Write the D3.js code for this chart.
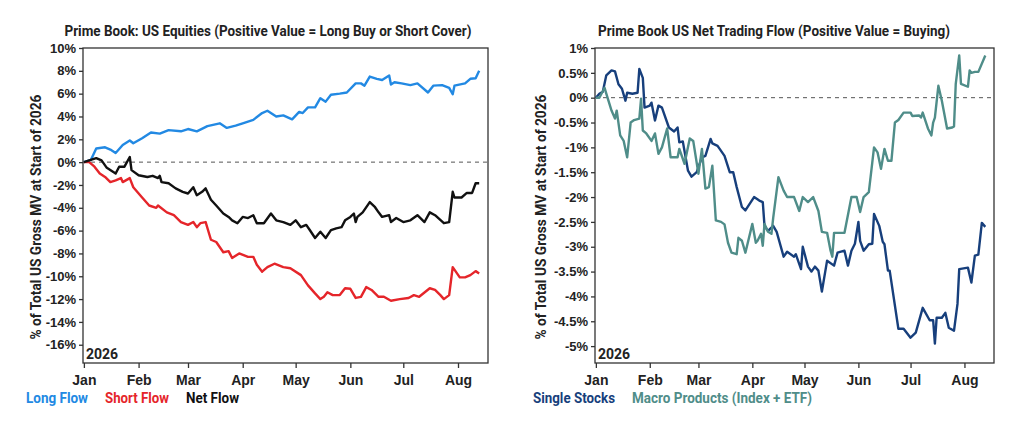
<!DOCTYPE html>
<html lang="en">
<head>
<meta charset="UTF-8">
<title>Prime Book Flows</title>
<script src="https://cdn.jsdelivr.net/npm/d3@7"></script>
<style>
body { margin: 0; background: #fff; }
svg { display: block; font-family: Roboto, "Liberation Sans", sans-serif; }
.axis text { font-size: 13px; font-weight: 700; fill: #222; }
.axis path, .axis line { stroke: #333; stroke-width: 1.3; }
.frame { fill: none; stroke: #333; stroke-width: 1.3; }
.zero { stroke: #555; stroke-width: 1; stroke-dasharray: 4,4; }
.title { font-size: 14px; font-weight: 700; fill: #222; }
.ylab { font-size: 14px; font-weight: 700; fill: #222; }
.legend { font-size: 14px; font-weight: 700; }
</style>
</head>
<body>
<div id="chart"></div>
<script>
// values, % of total US gross MV at start of 2026
const longFlow = [
  ["2026-01-01",0],["2026-01-05",0.2],["2026-01-08",1.2],["2026-01-13",1.3],["2026-01-16",1.1],
  ["2026-01-19",0.8],["2026-01-23",1.5],["2026-01-27",1.9],["2026-01-29",1.65],["2026-02-03",2.1],
  ["2026-02-08",2.6],["2026-02-13",2.5],["2026-02-18",2.8],["2026-02-25",2.7],["2026-03-01",2.9],
  ["2026-03-06",2.7],["2026-03-12",3.15],["2026-03-19",3.4],["2026-03-23",3.0],["2026-03-28",3.2],
  ["2026-04-01",3.4],["2026-04-07",3.7],["2026-04-12",4.3],["2026-04-15",4.5],["2026-04-20",4.0],
  ["2026-04-24",4.1],["2026-04-29",3.75],["2026-05-03",4.4],["2026-05-05",4.3],["2026-05-08",4.8],
  ["2026-05-12",4.8],["2026-05-15",5.6],["2026-05-18",5.3],["2026-05-21",5.9],["2026-05-26",6.0],
  ["2026-05-30",6.1],["2026-06-04",6.9],["2026-06-07",6.9],["2026-06-09",6.7],["2026-06-12",7.5],
  ["2026-06-16",7.3],["2026-06-19",7.2],["2026-06-23",7.6],["2026-06-24",6.8],["2026-06-26",7.0],
  ["2026-06-30",6.9],["2026-07-05",6.75],["2026-07-09",6.9],["2026-07-15",6.1],["2026-07-18",6.7],
  ["2026-07-23",6.75],["2026-07-27",6.5],["2026-07-29",5.95],["2026-07-30",6.7],["2026-08-05",6.9],
  ["2026-08-08",7.3],["2026-08-11",7.35],["2026-08-13",8.0]
];
const shortFlow = [
  ["2026-01-01",0],["2026-01-04",0],["2026-01-07",-0.4],["2026-01-10",-1.0],["2026-01-13",-1.3],
  ["2026-01-16",-1.75],["2026-01-19",-1.6],["2026-01-22",-1.4],["2026-01-23",-1.75],["2026-01-27",-1.4],
  ["2026-01-29",-2.2],["2026-02-03",-3.1],["2026-02-07",-3.8],["2026-02-11",-4.0],["2026-02-12",-3.8],
  ["2026-02-17",-4.4],["2026-02-21",-4.65],["2026-02-25",-5.25],["2026-03-01",-5.5],["2026-03-04",-5.25],
  ["2026-03-06",-5.7],["2026-03-08",-5.35],["2026-03-11",-5.25],["2026-03-14",-6.8],["2026-03-17",-7.0],
  ["2026-03-21",-7.9],["2026-03-24",-7.8],["2026-03-26",-8.4],["2026-03-30",-8.0],["2026-04-04",-8.3],
  ["2026-04-07",-8.3],["2026-04-09",-9.0],["2026-04-12",-9.6],["2026-04-15",-9.2],["2026-04-19",-8.9],
  ["2026-04-24",-9.2],["2026-04-28",-9.3],["2026-05-04",-9.9],["2026-05-08",-10.8],["2026-05-12",-11.5],
  ["2026-05-15",-12.0],["2026-05-17",-11.8],["2026-05-19",-11.4],["2026-05-22",-11.65],["2026-05-26",-11.65],
  ["2026-05-29",-11.05],["2026-06-01",-11.1],["2026-06-04",-11.9],["2026-06-07",-11.8],["2026-06-10",-10.95],
  ["2026-06-13",-11.2],["2026-06-17",-11.8],["2026-06-20",-11.8],["2026-06-24",-12.15],["2026-06-29",-12.0],
  ["2026-07-04",-11.9],["2026-07-07",-11.65],["2026-07-10",-11.8],["2026-07-16",-11.05],["2026-07-19",-11.2],
  ["2026-07-22",-11.65],["2026-07-24",-12.0],["2026-07-27",-11.65],["2026-07-29",-9.2],["2026-08-02",-10.1],
  ["2026-08-05",-10.1],["2026-08-08",-9.9],["2026-08-11",-9.55],["2026-08-13",-9.75]
];
const netFlow = [
  ["2026-01-01",0],["2026-01-04",0.15],["2026-01-08",0.35],["2026-01-11",0.15],["2026-01-14",-0.5],
  ["2026-01-19",-1.0],["2026-01-21",-0.4],["2026-01-24",-0.4],["2026-01-27",0.45],["2026-01-28",-0.7],
  ["2026-02-01",-1.15],["2026-02-06",-1.3],["2026-02-09",-1.2],["2026-02-12",-1.4],["2026-02-13",-1.2],
  ["2026-02-14",-1.75],["2026-02-18",-1.85],["2026-02-22",-2.3],["2026-02-26",-2.6],["2026-03-01",-2.75],
  ["2026-03-04",-2.2],["2026-03-06",-2.9],["2026-03-09",-2.6],["2026-03-11",-2.3],["2026-03-14",-3.3],
  ["2026-03-17",-3.8],["2026-03-21",-4.5],["2026-03-24",-4.8],["2026-03-26",-5.1],["2026-03-29",-5.35],
  ["2026-04-01",-4.8],["2026-04-04",-4.9],["2026-04-07",-4.65],["2026-04-09",-5.35],["2026-04-13",-5.35],
  ["2026-04-17",-4.5],["2026-04-20",-5.1],["2026-04-24",-5.25],["2026-04-28",-5.5],["2026-05-01",-5.1],
  ["2026-05-04",-5.7],["2026-05-07",-5.5],["2026-05-09",-5.95],["2026-05-12",-6.65],["2026-05-15",-6.1],
  ["2026-05-18",-6.65],["2026-05-21",-5.95],["2026-05-24",-5.8],["2026-05-27",-5.7],["2026-05-29",-5.1],
  ["2026-06-01",-4.8],["2026-06-03",-4.5],["2026-06-04",-5.25],["2026-06-05",-4.8],["2026-06-08",-4.4],
  ["2026-06-12",-3.5],["2026-06-15",-3.95],["2026-06-17",-4.4],["2026-06-19",-4.8],["2026-06-23",-4.65],
  ["2026-06-24",-5.25],["2026-06-27",-4.9],["2026-07-01",-5.25],["2026-07-05",-5.1],["2026-07-09",-4.65],
  ["2026-07-13",-5.25],["2026-07-16",-4.4],["2026-07-19",-4.65],["2026-07-24",-5.35],["2026-07-27",-5.25],
  ["2026-07-29",-2.6],["2026-07-30",-3.1],["2026-08-03",-3.1],["2026-08-06",-2.7],["2026-08-09",-2.7],
  ["2026-08-11",-1.85],["2026-08-13",-1.85]
];
const singleStocks = [
  ["2026-01-01",0],["2026-01-03",0.08],["2026-01-05",0.12],["2026-01-07",0.45],["2026-01-10",0.55],
  ["2026-01-12",0.53],["2026-01-14",0.27],["2026-01-16",0.18],["2026-01-18",-0.06],["2026-01-19",0.1],
  ["2026-01-22",0.08],["2026-01-25",0.1],["2026-01-26",0.58],["2026-01-28",0.4],["2026-01-29",-0.2],
  ["2026-02-01",-0.16],["2026-02-02",-0.1],["2026-02-04",-0.46],["2026-02-06",-0.16],["2026-02-08",-0.2],
  ["2026-02-12",-0.6],["2026-02-15",-0.68],["2026-02-17",-0.6],["2026-02-18",-0.9],["2026-02-20",-0.88],
  ["2026-02-23",-1.47],["2026-02-25",-1.59],["2026-02-28",-1.5],["2026-03-03",-1.2],["2026-03-05",-1.17],
  ["2026-03-08",-0.83],["2026-03-09",-0.92],["2026-03-12",-0.97],["2026-03-16",-1.17],["2026-03-19",-1.5],
  ["2026-03-21",-1.5],["2026-03-23",-1.8],["2026-03-26",-2.2],["2026-03-28",-2.27],["2026-04-02",-2.0],
  ["2026-04-05",-2.07],["2026-04-07",-2.1],["2026-04-08",-2.58],["2026-04-10",-2.68],["2026-04-13",-2.58],
  ["2026-04-15",-2.7],["2026-04-19",-3.2],["2026-04-21",-3.1],["2026-04-25",-3.2],["2026-04-26",-3.15],
  ["2026-04-29",-3.45],["2026-04-30",-3.0],["2026-05-03",-3.4],["2026-05-05",-3.5],["2026-05-07",-3.4],
  ["2026-05-09",-3.48],["2026-05-11",-3.9],["2026-05-14",-3.28],["2026-05-18",-3.38],["2026-05-20",-3.12],
  ["2026-05-24",-3.08],["2026-05-26",-3.38],["2026-05-28",-3.08],["2026-05-30",-2.94],["2026-06-01",-2.5],
  ["2026-06-02",-2.88],["2026-06-04",-3.08],["2026-06-07",-2.95],["2026-06-09",-2.94],["2026-06-10",-2.34],
  ["2026-06-13",-2.58],["2026-06-15",-2.9],["2026-06-16",-2.95],["2026-06-18",-3.48],["2026-06-19",-3.48],
  ["2026-06-24",-4.65],["2026-06-27",-4.65],["2026-07-01",-4.83],["2026-07-04",-4.73],["2026-07-08",-4.23],
  ["2026-07-12",-4.48],["2026-07-14",-4.48],["2026-07-15",-4.95],["2026-07-16",-4.43],["2026-07-19",-4.43],
  ["2026-07-21",-4.33],["2026-07-23",-4.63],["2026-07-26",-4.69],["2026-07-28",-4.15],["2026-07-29",-3.45],
  ["2026-08-03",-3.42],["2026-08-05",-3.72],["2026-08-07",-3.18],["2026-08-09",-3.16],["2026-08-11",-2.52],
  ["2026-08-13",-2.6]
];
const macroProducts = [
  ["2026-01-01",0],["2026-01-03",0],["2026-01-06",0.2],["2026-01-07",0.08],["2026-01-10",-0.26],
  ["2026-01-12",-0.42],["2026-01-13",-0.26],["2026-01-15",-0.76],["2026-01-17",-0.87],["2026-01-19",-1.2],
  ["2026-01-21",-0.5],["2026-01-23",-0.45],["2026-01-26",-0.42],["2026-01-27",-0.02],["2026-01-28",-0.66],
  ["2026-01-30",-0.72],["2026-02-02",-0.87],["2026-02-04",-0.72],["2026-02-06",-1.13],["2026-02-08",-1.0],
  ["2026-02-11",-0.62],["2026-02-13",-1.2],["2026-02-17",-1.2],["2026-02-18",-1.03],["2026-02-21",-1.33],
  ["2026-02-24",-0.82],["2026-02-26",-0.87],["2026-03-01",-1.53],["2026-03-03",-1.03],["2026-03-05",-1.83],
  ["2026-03-07",-1.8],["2026-03-09",-1.37],["2026-03-11",-2.47],["2026-03-14",-2.5],["2026-03-16",-2.55],
  ["2026-03-18",-2.92],["2026-03-20",-3.12],["2026-03-23",-3.15],["2026-03-24",-2.82],["2026-03-26",-2.88],
  ["2026-03-28",-3.12],["2026-04-01",-2.54],["2026-04-03",-2.92],["2026-04-04",-2.88],["2026-04-06",-2.74],
  ["2026-04-07",-2.98],["2026-04-08",-2.54],["2026-04-10",-2.7],["2026-04-12",-2.74],["2026-04-13",-2.42],
  ["2026-04-16",-1.6],["2026-04-19",-1.87],["2026-04-21",-2.0],["2026-04-25",-2.0],["2026-04-28",-2.28],
  ["2026-04-30",-2.0],["2026-05-03",-2.1],["2026-05-06",-2.0],["2026-05-09",-2.28],["2026-05-11",-2.7],
  ["2026-05-14",-2.72],["2026-05-16",-3.08],["2026-05-17",-3.2],["2026-05-18",-2.72],["2026-05-21",-2.72],
  ["2026-05-24",-2.72],["2026-05-28",-2.0],["2026-05-31",-2.0],["2026-06-02",-2.3],["2026-06-04",-2.0],
  ["2026-06-07",-1.9],["2026-06-09",-1.3],["2026-06-10",-1.0],["2026-06-12",-1.1],["2026-06-14",-1.43],
  ["2026-06-16",-1.03],["2026-06-18",-1.27],["2026-06-20",-1.27],["2026-06-22",-0.5],["2026-06-24",-0.45],
  ["2026-06-27",-0.3],["2026-07-01",-0.3],["2026-07-02",-0.37],["2026-07-06",-0.36],["2026-07-07",-0.4],
  ["2026-07-08",-0.3],["2026-07-11",-0.62],["2026-07-13",-0.76],["2026-07-14",-0.5],["2026-07-15",-0.4],
  ["2026-07-17",0.24],["2026-07-19",-0.06],["2026-07-22",-0.62],["2026-07-25",-0.6],["2026-07-26",-0.58],
  ["2026-07-27",0.28],["2026-07-29",0.85],["2026-07-30",0.28],["2026-08-03",0.22],["2026-08-04",0.55],
  ["2026-08-05",0.5],["2026-08-07",0.52],["2026-08-09",0.52],["2026-08-13",0.85]
];

const leftTicks = [10, 8, 6, 4, 2, 0, -2, -4, -6, -8, -10, -12, -14, -16];
const rightTicks = [1, 0.5, 0, -0.5, -1, -1.5, -2, -2.5, -3, -3.5, -4, -4.5, -5];

const width = 1024;
const height = 423;
const parse = d3.timeParse("%Y-%m-%d");
const xStart = new Date(2025, 11, 31, 12);
const xEnd = new Date(2026, 7, 18);

const svg = d3.select("#chart")
    .append("svg")
        .attr("width", width)
        .attr("height", height);

function panel(cfg) {
    const x = d3.scaleTime().domain([xStart, xEnd]).range([cfg.left, cfg.right]);
    const y = d3.scaleLinear().domain(cfg.yDomain).range([363, 48]);
    const g = svg.append("g");

    g.append("text")
        .attr("class", "title")
        .attr("x", cfg.titleX)
        .attr("y", 36)
        .attr("text-anchor", "middle")
        .attr("textLength", cfg.titleLen)
        .attr("lengthAdjust", "spacingAndGlyphs")
        .text(cfg.title);

    g.append("g")
        .attr("class", "axis")
        .attr("transform", `translate(${cfg.left},0)`)
        .call(d3.axisLeft(y).tickValues(cfg.ticks).tickFormat(d => d + "%").tickSize(4).tickPadding(3))
        .call(a => a.select(".domain").remove());

    g.append("g")
        .attr("class", "axis")
        .attr("transform", "translate(0,363)")
        .call(d3.axisBottom(x).ticks(d3.timeMonth.every(1)).tickFormat(d3.timeFormat("%b")).tickSize(5).tickPadding(7))
        .call(a => a.select(".domain").remove())
        .selectAll("text").style("font-size", "14px");

    g.append("line")
        .attr("class", "zero")
        .attr("x1", cfg.left).attr("x2", cfg.right)
        .attr("y1", y(0)).attr("y2", y(0));

    g.append("rect")
        .attr("class", "frame")
        .attr("x", cfg.left).attr("y", 48)
        .attr("width", cfg.right - cfg.left).attr("height", 315);

    const line = d3.line()
        .x(d => x(parse(d[0])))
        .y(d => y(d[1]));

    cfg.series.forEach(s => {
        g.append("path")
            .datum(s.data)
            .attr("fill", "none")
            .attr("stroke", s.color)
            .attr("stroke-width", 2.4)
            .attr("stroke-linejoin", "round")
            .attr("d", line);
    });

    g.append("text")
        .attr("class", "ylab")
        .attr("transform", `translate(${cfg.ylabX},${cfg.ylabY}) rotate(-90)`)
        .attr("text-anchor", "middle")
        .attr("textLength", 245)
        .attr("lengthAdjust", "spacingAndGlyphs")
        .text("% of Total US Gross MV at Start of 2026");

    g.append("text")
        .attr("class", "ylab")
        .attr("x", cfg.left + 3)
        .attr("y", 359)
        .text("2026");

    cfg.series.forEach(s => {
        g.append("text")
            .attr("class", "legend")
            .attr("x", s.lx)
            .attr("y", 403)
            .attr("fill", s.color)
            .attr("textLength", s.lw)
            .attr("lengthAdjust", "spacingAndGlyphs")
            .text(s.name);
    });
}

panel({
    left: 83, right: 488, yDomain: [-17.6, 10], ticks: leftTicks,
    title: "Prime Book: US Equities (Positive Value = Long Buy or Short Cover)",
    titleX: 268, titleLen: 407, ylabX: 41, ylabY: 217,
    series: [
        { name: "Long Flow", data: longFlow, color: "#2289e3", lx: 26, lw: 62 },
        { name: "Short Flow", data: shortFlow, color: "#e5252a", lx: 105, lw: 64 },
        { name: "Net Flow", data: netFlow, color: "#111111", lx: 186, lw: 53 }
    ]
});

panel({
    left: 595, right: 994, yDomain: [-5.34, 1], ticks: rightTicks,
    title: "Prime Book US Net Trading Flow (Positive Value = Buying)",
    titleX: 774, titleLen: 352, ylabX: 546, ylabY: 217,
    series: [
        { name: "Single Stocks", data: singleStocks, color: "#173f7c", lx: 533, lw: 82 },
        { name: "Macro Products (Index + ETF)", data: macroProducts, color: "#4f8d89", lx: 632, lw: 180 }
    ]
});
</script>
</body>
</html>
